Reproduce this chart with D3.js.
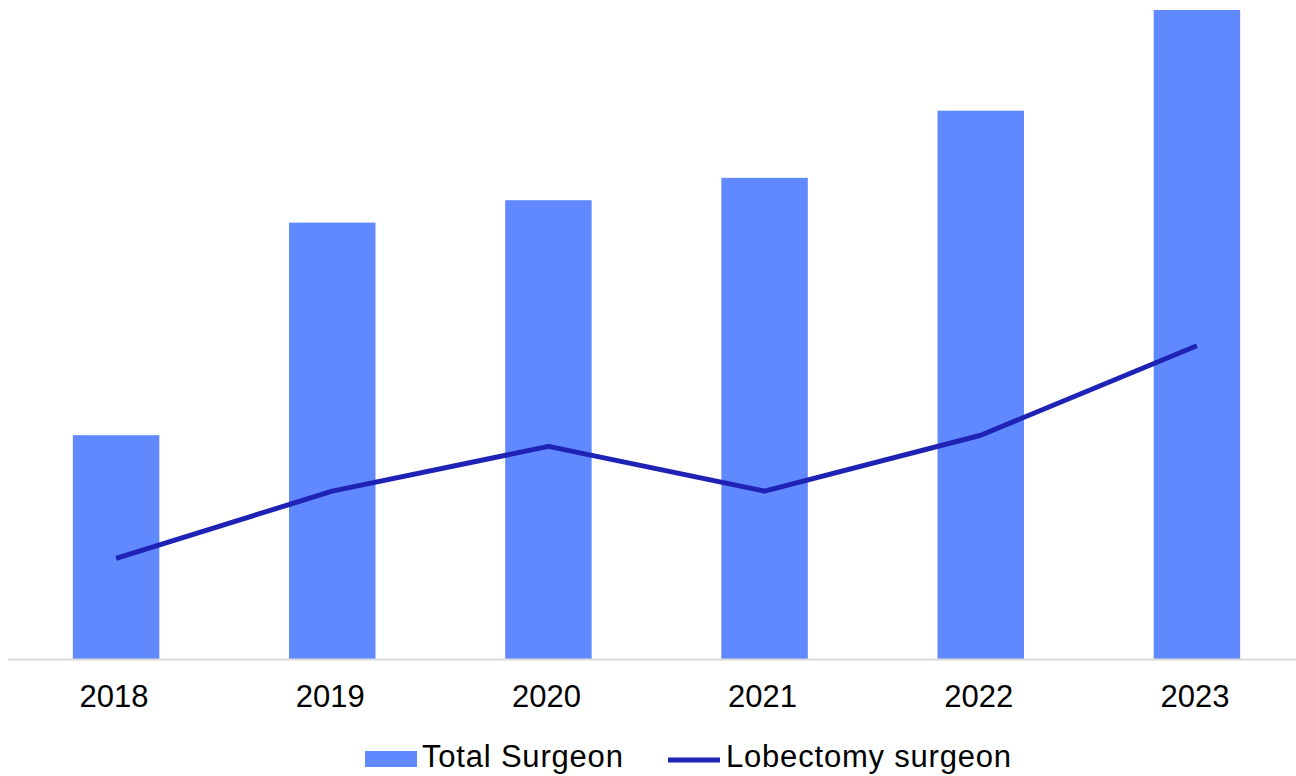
<!DOCTYPE html>
<html>
<head>
<meta charset="utf-8">
<script src="https://cdn.jsdelivr.net/npm/d3@7"></script>
<style>
  html, body { margin: 0; padding: 0; background: #ffffff; }
  svg { display: block; font-family: "Liberation Sans", Arial, sans-serif; }
</style>
</head>
<body>
<svg id="chart" width="1296" height="776"></svg>
<script>
// Surgeon counts per year
const years = ["2018", "2019", "2020", "2021", "2022", "2023"];
const totalSurgeon = [20, 39, 41, 43, 49, 58];
const lobectomySurgeon = [9, 15, 19, 15, 20, 28];
const seriesNames = ["Total Surgeon", "Lobectomy surgeon"];

const barColor = "#6088ff";
const lineColor = "#1f23b5";

const svg = d3.select("#chart");
const baseY = 659;

const x = d3.scaleBand()
  .domain(years)
  .range([8, 1305])
  .paddingInner(0.6)
  .paddingOuter(0.3);

const y = d3.scaleLinear()
  .domain([0, 58])
  .range([baseY, 10]);

const rows = years.map((yr, i) => ({ year: yr, total: totalSurgeon[i], lobe: lobectomySurgeon[i] }));

// bars
svg.append("g")
  .selectAll("rect")
  .data(rows)
  .join("rect")
  .attr("x", d => x(d.year))
  .attr("y", d => y(d.total))
  .attr("width", x.bandwidth())
  .attr("height", d => y(0) - y(d.total))
  .attr("fill", barColor);

// category axis
const xAxis = svg.append("g")
  .attr("transform", `translate(0,${baseY + 0.5})`)
  .call(d3.axisBottom(x).tickSize(0).tickPadding(0));
xAxis.select(".domain").remove();
xAxis.append("line")
  .attr("x1", 8).attr("x2", 1296)
  .attr("y1", 0).attr("y2", 0)
  .attr("stroke", "#d9d9d9")
  .attr("stroke-width", 2);
xAxis.selectAll(".tick text")
  .attr("x", -2)
  .attr("y", 47.5)
  .attr("dy", null)
  .attr("fill", "#000")
  .style("font-size", "31px")
  .style("font-family", "'Liberation Sans', Arial, sans-serif");

// line series
const line = d3.line()
  .x(d => x(d.year) + x.bandwidth() / 2)
  .y(d => y(d.lobe));

svg.append("path")
  .datum(rows)
  .attr("d", line)
  .attr("fill", "none")
  .attr("stroke", lineColor)
  .attr("stroke-width", 5)
  .attr("stroke-linejoin", "round");

// legend
const legend = svg.append("g")
  .style("font-size", "31px")
  .style("letter-spacing", "0.8px");
legend.append("rect")
  .attr("x", 365).attr("y", 751)
  .attr("width", 52).attr("height", 16)
  .attr("fill", barColor);
legend.append("text")
  .attr("x", 422).attr("y", 767)
  .attr("fill", "#000")
  .text(seriesNames[0]);
legend.append("line")
  .attr("x1", 668).attr("x2", 720)
  .attr("y1", 760).attr("y2", 760)
  .attr("stroke", lineColor)
  .attr("stroke-width", 5);
legend.append("text")
  .attr("x", 726).attr("y", 767)
  .attr("fill", "#000")
  .text(seriesNames[1]);
</script>
</body>
</html>
